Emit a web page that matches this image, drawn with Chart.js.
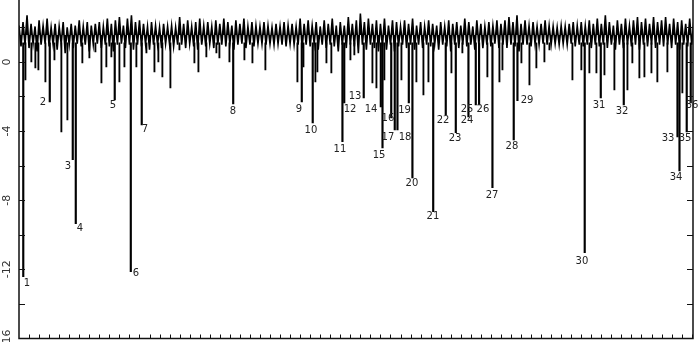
<!DOCTYPE html>
<html>
<head>
<meta charset="utf-8">
<script src="https://cdn.jsdelivr.net/npm/chart.js@4.4.1/dist/chart.umd.min.js"></script>
<style>
  html, body { margin: 0; padding: 0; background: #fff; }
  canvas { display: block; }
</style>
</head>
<body>
<canvas id="spikeChart" width="698" height="342"></canvas>
<script>
// series is sampled every NOISE_STEP samples, x axis runs 0..N_SAMPLES
const N_SAMPLES = 6713;
const NOISE_STEP = 20;
const noise = [
  2.1, 0.9, 2.3, 1.0, 2.7, 0.8, 2.2, 1.05, 2.05, 0.6, 2.4, 1.0, 2.1, 1.05, 2.5, 0.9, 2.0, 1.0, 2.2, 0.7,
  2.05, 1.05, 2.3, 0.5, 2.0, 1.0, 2.2, 0.8, 2.1, 1.05, 2.4, 0.9, 2.05, 1.0, 2.3, 0.6, 2.1, 1.0, 2.2, 1.05,
  2.3, 0.8, 2.05, 1.0, 2.5, 0.9, 2.2, 0.6, 2.4, 1.0, 2.6, 1.05, 2.1, 0.8, 2.5, 1.0, 2.7, 0.7, 2.3, 1.0,
  2.4, 0.9, 2.2, 1.05, 2.05, 0.7, 2.3, 1.0, 2.1, 1.0, 2.0, 0.8, 2.2, 1.05, 2.05, 1.0, 2.1, 0.9, 2.0, 1.0,
  2.6, 1.0, 2.2, 0.8, 2.4, 1.05, 2.05, 0.9, 2.3, 0.7, 2.5, 1.0, 2.1, 0.9, 2.3, 1.05, 2.05, 0.8, 2.4, 1.0,
  2.2, 1.0, 2.5, 0.9, 2.3, 1.05, 2.1, 0.7, 2.4, 1.0, 2.2, 1.05, 2.5, 0.8, 2.05, 1.0, 2.3, 0.9, 2.1, 1.05,
  2.05, 1.05, 2.3, 1.0, 2.1, 1.05, 2.0, 1.0, 2.2, 1.05, 2.05, 1.0, 2.3, 0.9, 2.1, 1.05, 2.2, 1.0, 2.05, 1.0,
  2.5, 0.8, 2.2, 1.0, 2.4, 0.9, 2.1, 1.05, 2.3, 0.7, 2.05, 1.0, 2.4, 0.8, 2.2, 1.0, 2.5, 0.9, 2.1, 0.6,
  2.3, 1.0, 2.1, 0.8, 2.6, 1.0, 2.2, 0.9, 2.4, 0.5, 2.8, 1.0, 2.3, 0.7, 2.5, 1.0, 2.2, 0.8, 2.4, 0.6,
  2.2, 0.9, 2.5, 0.7, 2.1, 1.0, 2.4, 0.6, 2.3, 0.9, 2.05, 1.0, 2.4, 0.8, 2.2, 1.0, 2.5, 0.7, 2.1, 1.0,
  2.3, 0.8, 2.05, 1.0, 2.4, 0.9, 2.2, 1.0, 2.1, 0.7, 2.3, 1.0, 2.05, 0.9, 2.4, 0.6, 2.2, 1.0, 2.3, 0.8,
  2.1, 1.0, 2.5, 0.9, 2.3, 1.0, 2.05, 0.7, 2.4, 1.0, 2.2, 0.8, 2.05, 1.0, 2.3, 0.9, 2.1, 1.05, 2.4, 0.8,
  2.2, 1.0, 2.4, 0.8, 2.6, 1.0, 2.3, 0.9, 2.7, 0.6, 2.2, 1.0, 2.4, 1.0, 2.1, 0.9, 2.3, 1.05, 2.05, 1.0,
  2.2, 1.05, 2.4, 1.0, 2.1, 1.0, 2.05, 1.05, 2.0, 1.0, 2.1, 1.05, 2.05, 1.0, 2.2, 1.05, 2.3, 0.9, 2.1, 1.0,
  2.3, 0.9, 2.1, 1.0, 2.4, 0.8, 2.2, 1.0, 2.5, 0.9, 2.2, 1.0, 2.7, 0.8, 2.3, 1.0, 2.1, 0.7, 2.4, 1.0,
  2.2, 0.8, 2.5, 1.0, 2.1, 0.9, 2.4, 1.0, 2.6, 0.7, 2.3, 1.0, 2.5, 0.9, 2.2, 1.0, 2.6, 0.8, 2.3, 1.0,
  2.4, 0.9, 2.6, 1.0, 2.2, 0.8, 2.5, 1.0, 2.3, 0.7, 2.4, 1.0, 2.2, 0.9, 2.5, 1.0, 2.3
];

// smaller unlabelled drops
const minorX = [70, 129, 169, 199, 269, 359, 428, 488, 637, 707, 767, 827, 876, 926, 1006, 1056, 1175, 1275,
  1355, 1394, 1434, 1514, 1604, 1753, 1793, 1872, 1972, 2002, 2102, 2251, 2331, 2460, 2779, 2839, 2958, 2978,
  3068, 3117, 3307, 3346, 3526, 3566, 3645, 3815, 3964, 4034, 4084, 4313, 4422, 4671, 4791, 4821, 5010, 5090,
  5159, 5239, 5289, 5518, 5607, 5687, 5757, 5837, 5936, 6066, 6115, 6185, 6235, 6305, 6364, 6464, 6613];
const minorY = [-1.04, 0.0, -0.35, -0.46, -1.16, 0.12, -4.05, -3.35, -0.06, 0.23, 0.58, -1.21, -0.29, 0.29, -1.16, -0.29, -0.29, 0.52,
  -0.58, 0.0, -0.87, -1.5, 0.69, -0.06, -0.58, 0.29, 0.52, 0.23, 0.0, 0.12, -0.06, -0.46, -1.16, -0.29, -1.16, -0.58,
  -0.06, -0.64, 0.12, 0.4, -1.21, -1.5, -1.04, -1.04, -1.16, -1.91, -1.16, -0.64, 0.52, -0.87, -1.16, -0.46, -0.06, -1.33,
  -0.35, 0.0, 0.69, -1.04, -0.46, -0.64, -0.64, -0.75, -1.62, -1.62, -0.06, -0.92, -0.87, -0.64, -1.16, -0.58, -1.79];

// numbered drops
const spikeLabels = ['1','2','3','4','5','6','7','8','9','10','11','12','13','14','15','16','17','18',
  '19','20','21','22','23','24','25','26','27','28','29','30','31','32','33','34','35','36'];
const spikeX = [35, 299, 528, 558, 946, 1106, 1215, 2126, 2809, 2918, 3214, 3232, 3426, 3596, 3613, 3700, 3735, 3762,
  3875, 3911, 4118, 4243, 4343, 4469, 4542, 4575, 4708, 4920, 4957, 5627, 5787, 6016, 6551, 6571, 6643, 6683];
const spikeY = [-12.43, -2.31, -5.66, -9.36, -2.2, -12.14, -3.64, -2.43, -2.31, -3.53, -4.61, -2.37, -2.08, -2.6, -4.97, -3.24, -3.93, -3.93,
  -2.37, -6.71, -8.67, -3.06, -4.1, -3.18, -2.49, -2.49, -7.28, -4.51, -2.25, -11.04, -2.08, -2.49, -4.34, -6.3, -4.05, -2.37];
// where each number is written
const labelX = [80, 239, 488, 608, 936, 1165, 1255, 2131, 2789, 2908, 3197, 3297, 3347, 3506, 3586, 3675, 3675, 3845,
  3840, 3914, 4123, 4223, 4343, 4462, 4462, 4621, 4711, 4910, 5060, 5607, 5777, 6006, 6464, 6544, 6634, 6703];
const labelY = [-12.83, -2.37, -6.07, -9.65, -2.54, -12.25, -3.93, -2.89, -2.77, -3.99, -5.09, -2.72, -2.02, -2.72, -5.43, -3.29, -4.34, -4.34,
  -2.83, -7.05, -8.96, -3.41, -4.45, -3.41, -2.72, -2.72, -7.75, -4.91, -2.2, -11.56, -2.54, -2.89, -4.45, -6.71, -4.45, -2.54];

const BAND_MID = 1.55;
const DROP_TOP = 1.1;
const Y_MIN = -16, Y_MAX = 3.58;
const yTickValues = [2, 0, -2, -4, -6, -8, -10, -12, -14];
const yLabelValues = [0, -4, -8, -12, -16];
const X_TICK_STEP = 100;

const xTickValues = [];
for (let v = X_TICK_STEP; v < N_SAMPLES; v += X_TICK_STEP) xTickValues.push(v);

const noisePoints = noise.map((v, i) => ({ x: i * NOISE_STEP, y: v }));
const minorBars = minorX.map((x, i) => ({ x: x, y: [DROP_TOP, minorY[i]] }));
const spikeBars = spikeX.map((x, i) => ({ x: x, y: [DROP_TOP, spikeY[i]] }));

const axesAndLabels = {
  id: 'axesAndLabels',
  afterDatasetsDraw(chart) {
    const { ctx, chartArea: a, scales: { x, y } } = chart;
    ctx.save();
    ctx.strokeStyle = '#111';
    ctx.lineWidth = 1.5;
    ctx.beginPath();
    ctx.moveTo(a.left, a.top);
    ctx.lineTo(a.left, a.bottom);
    ctx.lineTo(a.right, a.bottom);
    ctx.lineTo(a.right, a.top);
    ctx.stroke();

    ctx.lineWidth = 1;
    ctx.beginPath();
    yTickValues.forEach(v => {
      const py = Math.round(y.getPixelForValue(v)) + 0.5;
      ctx.moveTo(a.left, py); ctx.lineTo(a.left + 6, py);
      ctx.moveTo(a.right, py); ctx.lineTo(a.right - 6, py);
    });
    xTickValues.forEach(v => {
      const px = Math.round(x.getPixelForValue(v)) + 0.5;
      ctx.moveTo(px, a.bottom); ctx.lineTo(px, a.bottom - 4);
    });
    ctx.stroke();

    ctx.fillStyle = '#333';
    ctx.font = '11px "DejaVu Sans"';
    ctx.textAlign = 'center';
    ctx.textBaseline = 'middle';
    yLabelValues.forEach(v => {
      ctx.save();
      ctx.translate(7, y.getPixelForValue(v));
      ctx.rotate(-Math.PI / 2);
      ctx.fillText(v < 0 ? '-' + Math.abs(v) : String(v), 0, 0);
      ctx.restore();
    });

    ctx.fillStyle = '#222';
    ctx.font = '10px "DejaVu Sans"';
    spikeLabels.forEach((t, i) => {
      ctx.fillText(t, x.getPixelForValue(labelX[i]), y.getPixelForValue(labelY[i]));
    });
    ctx.restore();
  }
};

new Chart(document.getElementById('spikeChart'), {
  type: 'line',
  data: {
    datasets: [
      { type: 'line', data: noisePoints, borderColor: '#000', borderWidth: 1.6, pointRadius: 0, tension: 0,
        fill: { value: BAND_MID }, backgroundColor: '#000' },
      { type: 'bar', data: minorBars, backgroundColor: '#000', barThickness: 1.2, borderWidth: 0 },
      { type: 'bar', data: spikeBars, backgroundColor: '#000', barThickness: 1.5, borderWidth: 0 }
    ]
  },
  options: {
    responsive: false,
    animation: false,
    layout: { padding: { left: 19, right: 5, top: 0, bottom: 3.5 } },
    plugins: { legend: { display: false }, tooltip: { enabled: false } },
    scales: {
      x: { type: 'linear', min: 0, max: N_SAMPLES, offset: false, display: false },
      y: { type: 'linear', min: Y_MIN, max: Y_MAX, display: false }
    }
  },
  plugins: [axesAndLabels]
});
</script>
</body>
</html>
